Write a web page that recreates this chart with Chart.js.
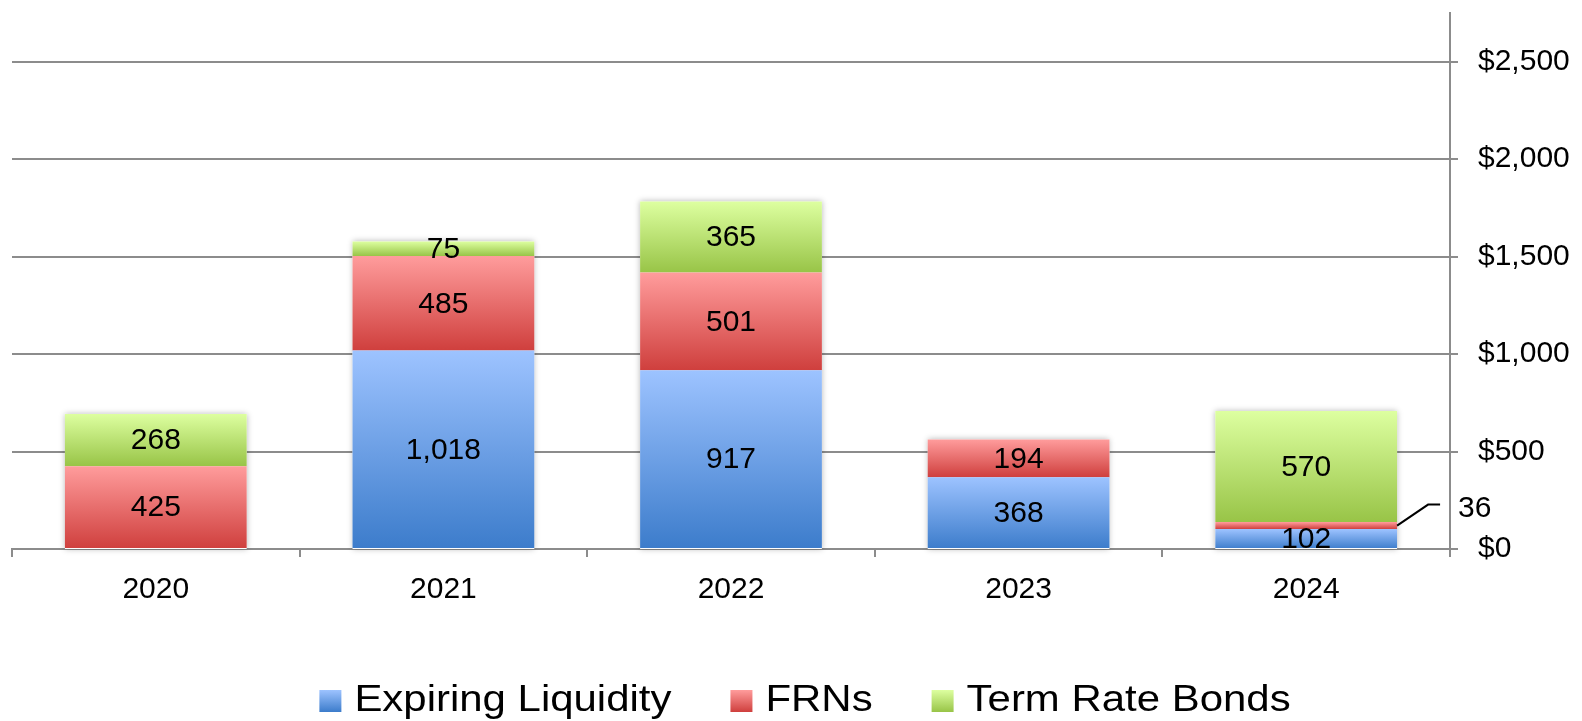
<!DOCTYPE html>
<html><head><meta charset="utf-8">
<script src="https://cdn.jsdelivr.net/npm/chart.js@4"></script>
<style>html,body{margin:0;padding:0;background:#fff;overflow:hidden}#wrap{width:1582px;height:721px;position:relative}</style>
</head><body><div id="wrap"><canvas id="c" width="1582" height="721"></canvas></div>
<script>
const categories = ['2020', '2021', '2022', '2023', '2024'];
const expiringLiquidity = [0, 1018, 917, 368, 102];
const frns = [425, 485, 501, 194, 36];
const termRateBonds = [268, 75, 365, 0, 570];
const seriesNames = ['Expiring Liquidity', 'FRNs', 'Term Rate Bonds'];
const yTickValues = [0, 500, 1000, 1500, 2000, 2500];
const yMax = 2750;

const allSeries = [expiringLiquidity, frns, termRateBonds];
const FONT = "'Liberation Sans', Arial, sans-serif";
const palette = [['#9DC3FF', '#3C7CCB'], ['#FF9C9C', '#CF3F3D'], ['#DDFFA0', '#98C447']];
const GRID = '#8c8c8c';

function segGradient(dsIndex) {
  return function (ctx) {
    const chart = ctx.chart; const ys = chart.scales.y;
    if (!ys || ctx.type !== 'data') return palette[dsIndex][1];
    const i = ctx.dataIndex;
    let base = 0; for (let d = 0; d < dsIndex; d++) base += allSeries[d][i] || 0;
    const top = base + (allSeries[dsIndex][i] || 0);
    const y0 = ys.getPixelForValue(top), y1 = ys.getPixelForValue(base);
    if (!isFinite(y0) || !isFinite(y1) || y0 === y1) return palette[dsIndex][1];
    const g = chart.ctx.createLinearGradient(0, y0, 0, y1);
    g.addColorStop(0, palette[dsIndex][0]); g.addColorStop(1, palette[dsIndex][1]);
    return g;
  };
}

const shadowPlugin = {
  id: 'stackShadow',
  beforeDatasetsDraw(chart) {
    const ctx = chart.ctx, ys = chart.scales.y;
    const meta0 = chart.getDatasetMeta(0);
    ctx.save();
    meta0.data.forEach((el, i) => {
      let total = 0; allSeries.forEach(s => total += s[i] || 0);
      const yTop = ys.getPixelForValue(total), yBot = ys.getPixelForValue(0);
      ctx.shadowColor = 'rgba(0,0,0,0.28)'; ctx.shadowBlur = 6;
      ctx.fillStyle = '#fff';
      ctx.fillRect(el.x - el.width / 2, yTop, el.width, yBot - yTop);
    });
    ctx.restore();
  }
};

const labelPlugin = {
  id: 'segLabels',
  afterDatasetsDraw(chart) {
    const ctx = chart.ctx;
    ctx.save();
    ctx.font = '30px ' + FONT; ctx.fillStyle = '#000';
    ctx.textAlign = 'center'; ctx.textBaseline = 'middle';
    chart.data.datasets.forEach((ds, d) => {
      const meta = chart.getDatasetMeta(d);
      meta.data.forEach((el, i) => {
        const v = ds.data[i];
        if (!v) return;
        const txt = v.toLocaleString('en-US');
        const cy = (el.y + el.base) / 2;
        if (v < 50) {
          const sx = el.x + el.width / 2, sy = cy;
          ctx.strokeStyle = '#000'; ctx.lineWidth = 2;
          ctx.beginPath(); ctx.moveTo(sx, sy); ctx.lineTo(sx + 31, sy - 21); ctx.lineTo(sx + 43, sy - 21); ctx.stroke();
          ctx.textAlign = 'left';
          ctx.fillText(txt, sx + 61, sy - 17);
          ctx.textAlign = 'center';
        } else {
          ctx.fillText(txt, el.x, cy + 1);
        }
      });
    });
    ctx.restore();
  }
};

const legendPlugin = {
  id: 'customLegend',
  afterDraw(chart) {
    const ctx = chart.ctx;
    const sx = 1.165, boxW = 22, boxH = 22, gapText = 13, gapItem = 59;
    ctx.save();
    ctx.font = '36px ' + FONT;
    const widths = seriesNames.map(n => ctx.measureText(n).width * sx);
    let total = 0; widths.forEach((w, k) => total += boxW + gapText + w + (k < widths.length - 1 ? gapItem : 0));
    let x = 805 - total / 2;
    const baseline = 711;
    seriesNames.forEach((n, k) => {
      const g = ctx.createLinearGradient(0, baseline + 1 - boxH, 0, baseline + 1);
      g.addColorStop(0, palette[k][0]); g.addColorStop(1, palette[k][1]);
      ctx.fillStyle = g;
      ctx.fillRect(x, baseline + 1 - boxH, boxW, boxH);
      x += boxW + gapText;
      ctx.save();
      ctx.translate(x, baseline); ctx.scale(sx, 1);
      ctx.fillStyle = '#000'; ctx.textBaseline = 'alphabetic'; ctx.textAlign = 'left';
      ctx.fillText(n, 0, 0);
      ctx.restore();
      x += widths[k] + gapItem;
    });
    ctx.restore();
  }
};

new Chart(document.getElementById('c'), {
  type: 'bar',
  data: {
    labels: categories,
    datasets: seriesNames.map((name, d) => ({
      label: name,
      data: allSeries[d],
      backgroundColor: segGradient(d),
      borderWidth: 0,
      barPercentage: 0.632,
      categoryPercentage: 1
    }))
  },
  options: {
    responsive: false, animation: false, devicePixelRatio: 1,
    layout: { padding: { left: 12, top: 13, right: 0, bottom: 112 } },
    plugins: { legend: { display: false }, tooltip: { enabled: false } },
    scales: {
      x: {
        stacked: true, offset: true,
        grid: { offset: true, drawOnChartArea: false, drawTicks: true, tickLength: 8, color: GRID, lineWidth: 2 },
        border: { display: true, color: GRID, width: 2 },
        ticks: { color: '#000', font: { family: FONT, size: 30 }, padding: 15, maxRotation: 0 },
        afterFit(s) { s.height = 60; s.paddingLeft = 0; s.paddingRight = 0; }
      },
      y: {
        position: 'right', stacked: true, min: 0, max: yMax,
        afterBuildTicks(s) { s.ticks = yTickValues.map(v => ({ value: v })); },
        grid: { color: GRID, lineWidth: 2, tickLength: 8, drawTicks: true },
        border: { display: true, color: GRID, width: 2 },
        ticks: { color: '#000', font: { family: FONT, size: 30 }, padding: 20,
          callback: v => '$' + Number(v).toLocaleString('en-US') },
        afterFit(s) { s.width = 132; s.paddingTop = 0; s.paddingBottom = 0; }
      }
    }
  },
  plugins: [shadowPlugin, labelPlugin, legendPlugin]
});
</script></body></html>
